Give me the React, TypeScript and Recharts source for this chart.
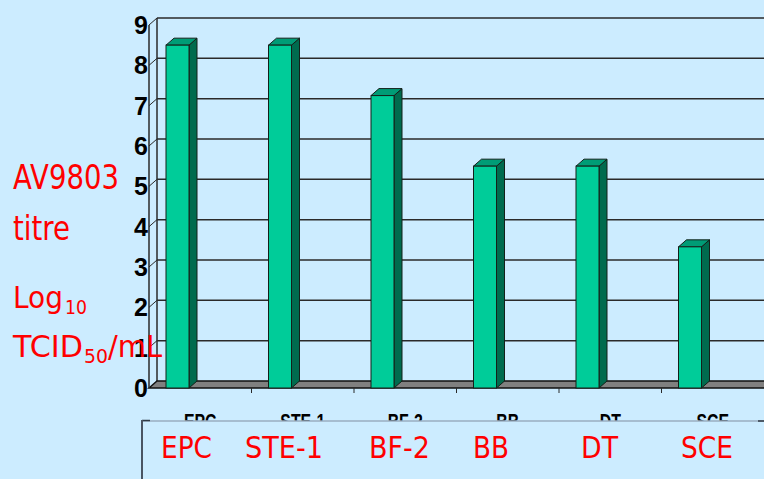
import React from 'react';
import { BarChart, Bar, XAxis, YAxis, CartesianGrid } from 'recharts';

// Cell lines tested and their AV9803 titres (log10 TCID50/mL)
const cellLines = ['EPC', 'STE-1', 'BF-2', 'BB', 'DT', 'SCE'];
const titres = [8.5, 8.5, 7.25, 5.5, 5.5, 3.5];
const valueTicks = [0, 1, 2, 3, 4, 5, 6, 7, 8, 9];

const data = cellLines.map((name, i) => ({ name, titre: titres[i] }));

// Layout
const W = 764;
const H = 479;
const Y_AXIS_W = 149;
const X_AXIS_H = 91;
const TOP = 25;
const PLOT_W = W - Y_AXIS_W;
const DX = 8; // depth of the 3D box, horizontal
const DY = 7; // depth of the 3D box, vertical
const BAR_SHIFT = -23;

const BG = '#CCECFF';
const LINE = '#2a2a2a';
const RED = '#FF0000';

// Caption row under the chart (left edges / widths of each name)
const captionLeft = [161, 245, 369, 473, 581, 681];
const captionWidth = [51, 78, 61, 36, 37, 52];

function Column3D(props: any) {
  const { x, y, width, height } = props;
  if (x == null || y == null || !width || height == null) return null;
  const fx = x + BAR_SHIFT;
  const bottom = y + height;
  const r = fx + width;
  return (
    <g>
      <polygon
        points={`${r},${y} ${r + DX},${y - DY} ${r + DX},${bottom - DY} ${r},${bottom}`}
        fill="#006B4E"
        stroke="#142019"
        strokeWidth={1}
      />
      <polygon
        points={`${fx},${y} ${fx + DX},${y - DY} ${r + DX},${y - DY} ${r},${y}`}
        fill="#009C76"
        stroke="#142019"
        strokeWidth={1}
      />
      <rect x={fx} y={y} width={width} height={height} fill="#00CC99" stroke="#142019" strokeWidth={1} />
    </g>
  );
}

// Back wall gridlines, side wall connectors and the floor
function WallLine(props: any) {
  const { x1, y1, x2, horizontalPoints, y, height } = props;
  const pts: number[] = horizontalPoints && horizontalPoints.length ? horizontalPoints : [y, y + height];
  const floorY = Math.max(...pts);
  const topY = Math.min(...pts);
  if (Math.abs(y1 - floorY) < 0.5) {
    return (
      <g>
        <line x1={x1 + DX} y1={topY - DY} x2={x1 + DX} y2={floorY - DY} stroke={LINE} strokeWidth={1.5} />
        <polygon
          points={`${x1},${floorY} ${x1 + DX},${floorY - DY} ${x2 + DX},${floorY - DY} ${x2},${floorY}`}
          fill="#808080"
          stroke="#111"
          strokeWidth={1.5}
        />
      </g>
    );
  }
  return (
    <g>
      <line x1={x1} y1={y1} x2={x1 + DX} y2={y1 - DY} stroke={LINE} strokeWidth={1} />
      <line x1={x1 + DX} y1={y1 - DY} x2={x2 + DX} y2={y1 - DY} stroke={LINE} strokeWidth={1.5} />
    </g>
  );
}

function ValueTick(props: any) {
  const { x, y, payload } = props;
  return (
    <text
      x={x}
      y={y + 9}
      textAnchor="end"
      fontFamily="'Liberation Sans', Arial, sans-serif"
      fontWeight="bold"
      fontSize={25}
      fill="#000"
    >
      {payload.value}
    </text>
  );
}

function CellTick(props: any) {
  const { x, y, payload, index } = props;
  const band = PLOT_W / cellLines.length;
  return (
    <g>
      {index < cellLines.length - 1 && (
        <line x1={x + band / 2} y1={y} x2={x + band / 2} y2={y + 5} stroke={LINE} strokeWidth={1} />
      )}
      <text
        transform={`translate(${x}, ${y + 41}) scale(0.72, 1)`}
        textAnchor="middle"
        fontFamily="'Liberation Sans', Arial, sans-serif"
        fontWeight="bold"
        fontSize={22}
        fill="#000"
      >
        {payload.value}
      </text>
    </g>
  );
}

const redFont = "'DejaVu Sans', Verdana, sans-serif";

function RedText(props: { x: number; y: number; size: number; len: number; children: string }) {
  return (
    <text
      x={props.x}
      y={props.y}
      fontFamily={redFont}
      fontSize={props.size}
      fill={RED}
      textLength={props.len}
      lengthAdjust="spacingAndGlyphs"
    >
      {props.children}
    </text>
  );
}

export default function App() {
  return (
    <div style={{ position: 'absolute', left: 0, top: 0, width: W, height: H, background: BG, overflow: 'hidden' }}>
      <BarChart
        width={W}
        height={H}
        data={data}
        margin={{ top: TOP, right: 0, bottom: 0, left: 0 }}
        barSize={23}
      >
        <CartesianGrid vertical={false} horizontal={(p: any) => <WallLine {...p} />} />
        <XAxis
          dataKey="name"
          interval={0}
          height={X_AXIS_H}
          axisLine={false}
          tickLine={false}
          tickSize={0}
          tickMargin={0}
          tick={(p: any) => <CellTick {...p} />}
        />
        <YAxis
          type="number"
          domain={[0, 9]}
          ticks={valueTicks}
          interval={0}
          width={Y_AXIS_W}
          axisLine={{ stroke: LINE, strokeWidth: 1.5 }}
          tickLine={false}
          tickSize={0}
          tickMargin={1}
          tick={(p: any) => <ValueTick {...p} />}
        />
        <Bar dataKey="titre" isAnimationActive={false} shape={(p: any) => <Column3D {...p} />} />
      </BarChart>

      <svg
        width={W}
        height={H}
        style={{ position: 'absolute', left: 0, top: 0, pointerEvents: 'none' }}
      >
        {/* axis title */}
        <RedText x={13} y={189} size={33} len={106}>AV9803</RedText>
        <RedText x={13} y={240} size={33} len={57}>titre</RedText>
        <RedText x={13} y={308} size={30} len={50}>Log</RedText>
        <RedText x={65} y={314} size={19.5} len={22}>10</RedText>
        <RedText x={13} y={357} size={30} len={70}>TCID</RedText>
        <RedText x={84} y={363} size={19} len={24}>50</RedText>
        <RedText x={108} y={357} size={30} len={54}>/mL</RedText>

        {/* caption row */}
        <rect x={142} y={421} width={W - 142} height={H - 421} fill={BG} />
        <line x1={142} y1={421} x2={W} y2={421} stroke="#9AAEC0" strokeWidth={1.5} />
        <line x1={142} y1={420.5} x2={150} y2={420.5} stroke="#2F3A45" strokeWidth={1.5} />
        <line x1={758} y1={421} x2={W} y2={421} stroke="#2F3A45" strokeWidth={1.5} />
        <line x1={142} y1={420} x2={142} y2={H} stroke="#4A5563" strokeWidth={2} />
        {cellLines.map((name, i) => (
          <RedText key={name} x={captionLeft[i]} y={457.5} size={29.5} len={captionWidth[i]}>
            {name}
          </RedText>
        ))}
      </svg>
    </div>
  );
}
